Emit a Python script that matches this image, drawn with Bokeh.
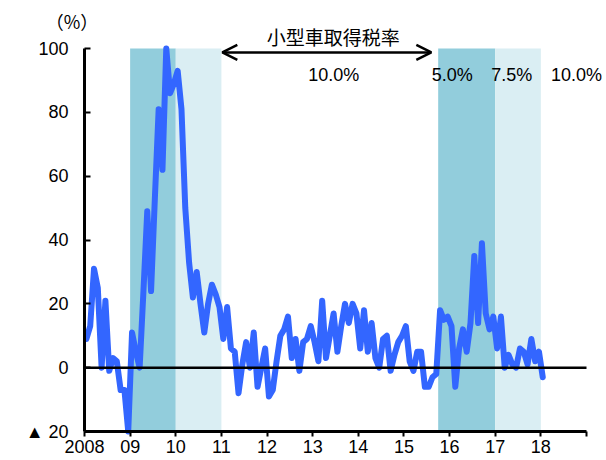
from bokeh.plotting import figure
from bokeh.models import (Range1d, FixedTicker, BoxAnnotation, Arrow,
                          OpenHead, Label)
from bokeh.embed import file_html
from bokeh.resources import INLINE

# Year-on-year change of small-car sales (%), monthly, Jan 2008 - Jan 2018
y2008 = [9, 13, 31, 25, 0, 21, -1, 3, 2, -7, -7, -20]
y2009 = [11, 5, 0, 24, 49, 24, 53, 81, 62, 100, 86, 89]
y2010 = [93, 81, 50, 33, 22, 30, 20, 11, 20, 26, 23, 19]
y2011 = [9, 19, 6, 5, -8, 1, 8, 0, 11, -6, 0, 6]
y2012 = [-9, -7, 2, 10, 12, 16, 3, 9, -1, 8, 9, 13]
y2013 = [8, 2, 21, 3, 10, 17, 5, 13, 20, 14, 20, 17]
y2014 = [6, 18, 5, 14, 3, 0, 9, 10, -1, 4, 8, 10]
y2015 = [13, 2, -1, 5, 5, -6, -6, -3, -2, 18, 15, 16]
y2016 = [13, -6, 6, 12, 5, 14, 35, 14, 39, 17, 12, 16]
y2017 = [6, 16, 0, 4, 1, 0, 6, 5, 1, 9, 2, 5]
y2018 = [-3]

# Tax-rate periods (start, end) for the shaded bands
reduced_periods = [(2009.0, 2010.0), (2015.75, 2017.0)]
interim_periods = [(2010.0, 2011.0), (2017.0, 2018.0)]
rate_labels = ["10.0%", "5.0%", "7.5%", "10.0%"]
rate_label_x = [2013.46, 2016.06, 2017.36, 2018.78]

year_ticks = list(range(2008, 2020))
year_labels = ["2008", "09", "10", "11", "12", "13", "14", "15", "16", "17", "18", ""]
value_ticks = [-20, 0, 20, 40, 60, 80, 100]

values = (y2008 + y2009 + y2010 + y2011 + y2012 + y2013 + y2014 + y2015
          + y2016 + y2017 + y2018)
# each monthly observation sits at the middle of its month
months = [2008 + (i + 0.5) / 12 for i in range(len(values))]

NUM_FONT = "'Liberation Sans', 'Noto Sans CJK JP'"
JP_FONT = "Noto Sans CJK JP"

X0, X1 = year_ticks[0], year_ticks[-1]
V0, V1 = value_ticks[0], value_ticks[-1]

# The frame fills the whole canvas; both axes are pinned to the edges of
# the value/date area so that every text around it stays visible.
PX_PER_YEAR = 502 / (X1 - X0)
PX_PER_UNIT = 383 / (V1 - V0)
p = figure(width=606, height=460, output_backend="svg", toolbar_location=None,
           x_range=Range1d(X0 - 84 / PX_PER_YEAR, X1 + 20 / PX_PER_YEAR),
           y_range=Range1d(V0 - 29 / PX_PER_UNIT, V1 + 48 / PX_PER_UNIT),
           min_border=0)
p.outline_line_color = None
p.xgrid.visible = False
p.ygrid.visible = False
p.background_fill_color = "white"
p.border_fill_color = "white"

for a, b in reduced_periods:
    p.add_layout(BoxAnnotation(left=a, right=b, top=V1, bottom=V0,
                               fill_color="#92CDDC", fill_alpha=1,
                               line_color=None, level="underlay"))
for a, b in interim_periods:
    p.add_layout(BoxAnnotation(left=a, right=b, top=V1, bottom=V0,
                               fill_color="#DAEEF3", fill_alpha=1,
                               line_color=None, level="underlay"))

p.line(months, values, line_color="#3366FF", line_width=6,
       line_join="round", line_cap="round")

# zero reference line
p.segment(x0=[X0], y0=[0], x1=[X1], y1=[0], line_color="black", line_width=2.5)

# x axis, pinned to the bottom of the value scale
xa = p.xaxis[0]
xa.fixed_location = V0
xa.bounds = (X0, X1)
xa.ticker = FixedTicker(ticks=year_ticks)
xa.major_label_overrides = {t: s for t, s in zip(year_ticks, year_labels)}
xa.axis_line_width = 3
xa.axis_line_color = "black"
xa.major_tick_line_width = 2
xa.major_tick_in = 0
xa.major_tick_out = 5
xa.minor_tick_line_color = None
xa.major_label_standoff = 3
xa.major_label_text_font = NUM_FONT
xa.major_label_text_font_size = "18px"
xa.major_label_text_color = "black"

# y axis, pinned to the first year
ya = p.yaxis[0]
ya.fixed_location = X0
ya.bounds = (V0, V1)
ya.ticker = FixedTicker(ticks=value_ticks)
ya.major_label_overrides = {-20: "▲ 20"}
ya.axis_line_width = 3
ya.axis_line_color = "black"
ya.major_tick_line_width = 2
ya.major_tick_in = 6
ya.major_tick_out = 0
ya.minor_tick_line_color = None
ya.major_label_standoff = 16
ya.major_label_text_font = NUM_FONT
ya.major_label_text_font_size = "18px"
ya.major_label_text_color = "black"

# unit mark
p.add_layout(Label(x=X0 - 12.5 / PX_PER_YEAR, y=V1 + 28 / PX_PER_UNIT,
                   text="（%）", text_align="center", text_baseline="middle",
                   text_font=JP_FONT, text_font_size="18px", text_color="black"))

# tax-rate heading and arrow
p.add_layout(Label(x=2013.45, y=V1 + 12 / PX_PER_UNIT, text="小型車取得税率",
                   text_align="center", text_baseline="middle",
                   text_font=JP_FONT, text_font_size="19px", text_color="black"))
p.add_layout(Arrow(start=OpenHead(size=15, line_width=2.5, line_color="black"),
                   end=OpenHead(size=15, line_width=2.5, line_color="black"),
                   x_start=2011.02, y_start=98.75, x_end=2015.6, y_end=98.75,
                   line_width=2.5, line_color="black"))

for lx, lt in zip(rate_label_x, rate_labels):
    p.add_layout(Label(x=lx, y=91.7, text=lt, text_align="center",
                       text_baseline="middle", text_font=NUM_FONT,
                       text_font_size="18px", text_color="black"))

open("out.html", "w").write(file_html(p, INLINE))
